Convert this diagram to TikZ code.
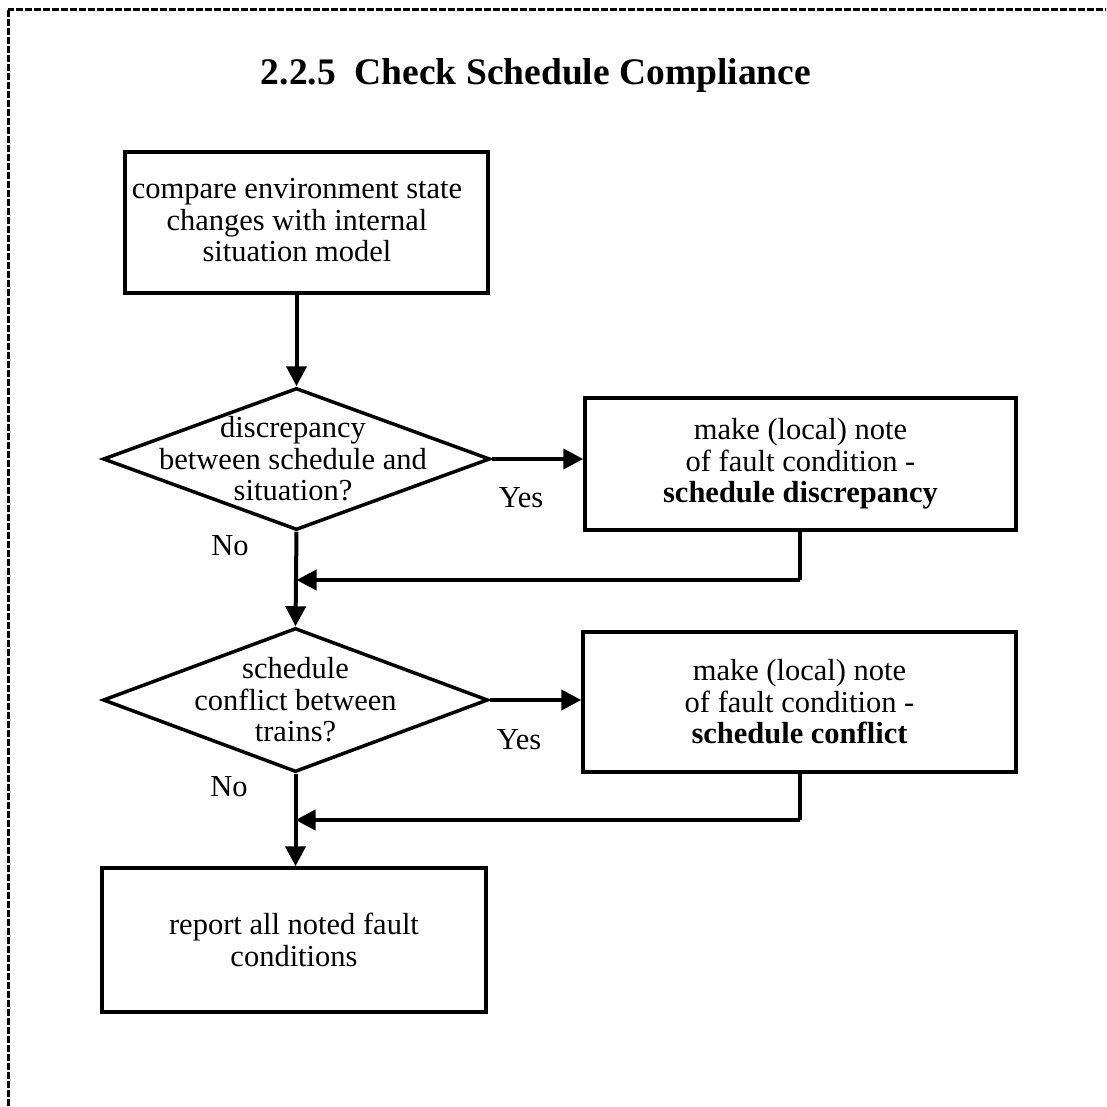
\documentclass[tikz,border=0pt]{standalone}
\usepackage{fontspec}
\setmainfont{Liberation Serif}
\usetikzlibrary{shapes.geometric,arrows.meta}

\begin{document}
\begin{tikzpicture}[x=1pt,y=-1pt,
  txt/.style={font=\fontsize{30.5}{31.5}\selectfont, align=center, inner sep=0pt},
  box/.style={txt, draw, line width=3.5pt, rectangle},
  dia/.style={draw, line width=3.5pt, diamond, inner sep=0pt},
  flow/.style={line width=4pt, -{Triangle[length=20pt,width=20pt]}},
  plain/.style={line width=4pt}]

  \useasboundingbox (0,0) rectangle (1106,1107);
  \clip (0,0) rectangle (1106,1107);

  % dashed frame
  \draw[line width=3pt, dash pattern=on 7pt off 2pt] (8,10) rectangle (1140,1140);

  % title
  \node[font=\fontsize{37.5}{44}\selectfont\bfseries, inner sep=0pt] (title) at (536,75)
    {2.2.5\ \ Check Schedule Compliance};

  % steps
  \node[box, minimum width=363pt, minimum height=141pt] (b1) at (306.5,222.5) {};
  \node[txt] (b1t) at (297,220.5)
    {compare environment state\\changes with internal\\situation model};

  \node[dia, minimum width=387pt, minimum height=142pt] (d1) at (296.5,459) {};
  \node[txt] (d1t) at (293,459) {discrepancy\\between schedule and\\situation?};

  \node[box, minimum width=431pt, minimum height=132pt] (b2) at (800.5,464)
    {make (local) note\\of fault condition -\\\textbf{schedule discrepancy}};

  \node[dia, minimum width=385pt, minimum height=144pt] (d2) at (295.5,700) {};
  \node[txt] (d2t) at (295.5,700) {schedule\\conflict between\\trains?};

  \node[box, minimum width=433pt, minimum height=140pt] (b3) at (799.5,702)
    {make (local) note\\of fault condition -\\\textbf{schedule conflict}};

  \node[box, minimum width=384pt, minimum height=144pt] (b4) at (294,940)
    {report all noted fault\\conditions};

  % branch labels
  \node[txt] (y1) at (521,498) {Yes};
  \node[txt] (n1) at (230,546) {No};
  \node[txt] (y2) at (519,740) {Yes};
  \node[txt] (n2) at (229,787) {No};

  % join points
  \coordinate (c1) at (800,580);
  \coordinate (j1) at (296.5,580);
  \coordinate (c2) at (800,820);
  \coordinate (j2) at (295.5,820);

  % connectors
  \draw[flow] (d1.north |- b1.south) -- (d1.north);
  \draw[flow] (d1.east) -- (d1.east -| b2.west);
  \draw[plain] (c1 |- b2.south) -- (c1);
  \draw[flow] (c1) -- (j1);
  \draw[flow] (d1.south) -- (d2.north);
  \draw[flow] (d2.east) -- (d2.east -| b3.west);
  \draw[plain] (c2 |- b3.south) -- (c2);
  \draw[flow] (c2) -- (j2);
  \draw[flow] (d2.south) -- (b4.north -| d2.south);
\end{tikzpicture}
\end{document}
